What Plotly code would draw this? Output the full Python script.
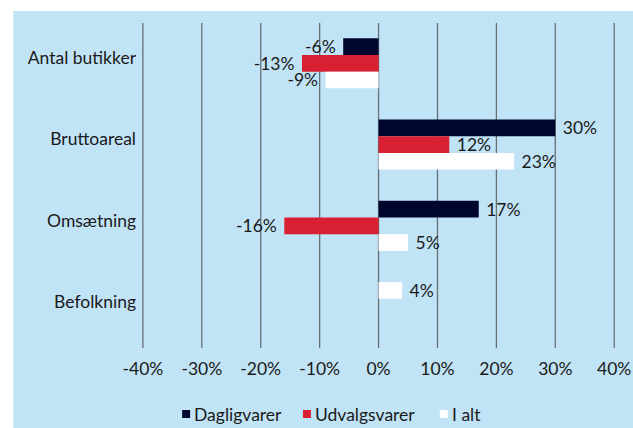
import plotly.graph_objects as go

# Change in retail structure, per category
categories = ["Antal butikker", "Bruttoareal", "Omsætning", "Befolkning"]
series_names = ["Dagligvarer", "Udvalgsvarer", "I alt"]
dagligvarer = [-6, 30, 17, None]
udvalgsvarer = [-13, 12, -16, None]
i_alt = [-9, 23, 5, 4]
x_ticks = [-40, -30, -20, -10, 0, 10, 20, 30, 40]

colors = ["#00052e", "#d92032", "#ffffff"]
BG = "#c1e3f6"
GRID = "#6a6f76"
FONT = "Lato"
FS = 17.5
TXT = "#1a1a1a"

W, H = 633, 428
PX_PER_UNIT = 5.9
X_MIN, X_MAX = -41.0, 40.3
ZERO_PX = 378.7
ML = ZERO_PX + X_MIN * PX_PER_UNIT
MR = W - (ZERO_PX + X_MAX * PX_PER_UNIT)
MT, MB = 23, 80
Y_RANGE = [3.569, -0.431]  # reversed: first category at the top

bar_w = 0.205
group_top = -0.242
# slot index for each series within a category group (top to bottom);
# Befolkning only has the total, drawn in the first slot
slots = {
    "Dagligvarer": [0, 0, 0, 0],
    "Udvalgsvarer": [1, 1, 1, 1],
    "I alt": [2, 2, 2, 0],
}

NBSP = "\u00a0"


def value_label(v):
    # pad the label on the side facing the bar
    if v is None:
        return None
    return f"{v}%{NBSP}" if v < 0 else f"{NBSP}{v}%"


fig = go.Figure()
for name, vals, col in zip(series_names, [dagligvarer, udvalgsvarer, i_alt], colors):
    fig.add_trace(go.Bar(
        name=name,
        y=categories,
        x=vals,
        orientation="h",
        marker=dict(color=col, line=dict(width=0)),
        width=bar_w,
        offset=[group_top + s * bar_w for s in slots[name]],
        text=[value_label(v) for v in vals],
        textposition="outside",
        constraintext="none",
        cliponaxis=False,
        textfont=dict(family=FONT, size=FS, color=TXT),
        showlegend=False,
    ))

plot_w = W - ML - MR
plot_h = H - MT - MB


def px_x(px):
    return (px - ML) / plot_w


def px_y(py):
    return (H - MB - py) / plot_h


# vertical gridlines at every x tick, spanning the plot height
grid_shapes = [
    dict(type="line", xref="x", yref="paper", x0=t, x1=t, y0=0, y1=1,
         layer="below", line=dict(color=GRID, width=1.3))
    for t in x_ticks
]

background = dict(
    type="rect", xref="paper", yref="paper", layer="below",
    x0=px_x(13), x1=px_x(W + 5), y0=px_y(H + 5), y1=px_y(11),
    fillcolor=BG, line=dict(width=0),
)

# legend row below the axis: square swatch followed by the series name
legend_left = [182, 303, 440]
legend_y = 414
swatch = 8
legend_shapes = [
    dict(type="rect", xref="paper", yref="paper",
         x0=px_x(x), x1=px_x(x + swatch),
         y0=px_y(legend_y + swatch / 2), y1=px_y(legend_y - swatch / 2),
         fillcolor=c, line=dict(width=0))
    for x, c in zip(legend_left, colors)
]
legend_labels = [
    dict(xref="paper", yref="paper", x=px_x(x + swatch + 2), xanchor="left",
         y=px_y(legend_y), yanchor="middle", text=n, showarrow=False,
         font=dict(family=FONT, size=FS, color=TXT))
    for x, n in zip(legend_left, series_names)
]

fig.update_layout(
    width=W, height=H,
    margin=dict(l=ML, r=MR, t=MT, b=MB, pad=0, autoexpand=False),
    barmode="overlay",
    paper_bgcolor="white",
    plot_bgcolor=BG,
    font=dict(family=FONT, size=FS, color=TXT),
    showlegend=False,
    xaxis=dict(
        range=[X_MIN, X_MAX],
        tickvals=x_ticks,
        ticktext=[f"{t}%" for t in x_ticks],
        showgrid=False,
        zeroline=False,
        showline=False,
        ticks="",
        automargin=False,
        ticklabelstandoff=8,
        tickfont=dict(family=FONT, size=FS, color=TXT),
        fixedrange=True,
    ),
    yaxis=dict(
        range=Y_RANGE,
        showgrid=False,
        zeroline=False,
        showline=False,
        ticks="",
        automargin=False,
        ticklabelstandoff=0,
        tickfont=dict(family=FONT, size=FS, color=TXT),
        fixedrange=True,
    ),
    shapes=[background] + grid_shapes + legend_shapes,
    annotations=legend_labels,
)

fig.write_html("out.html")
